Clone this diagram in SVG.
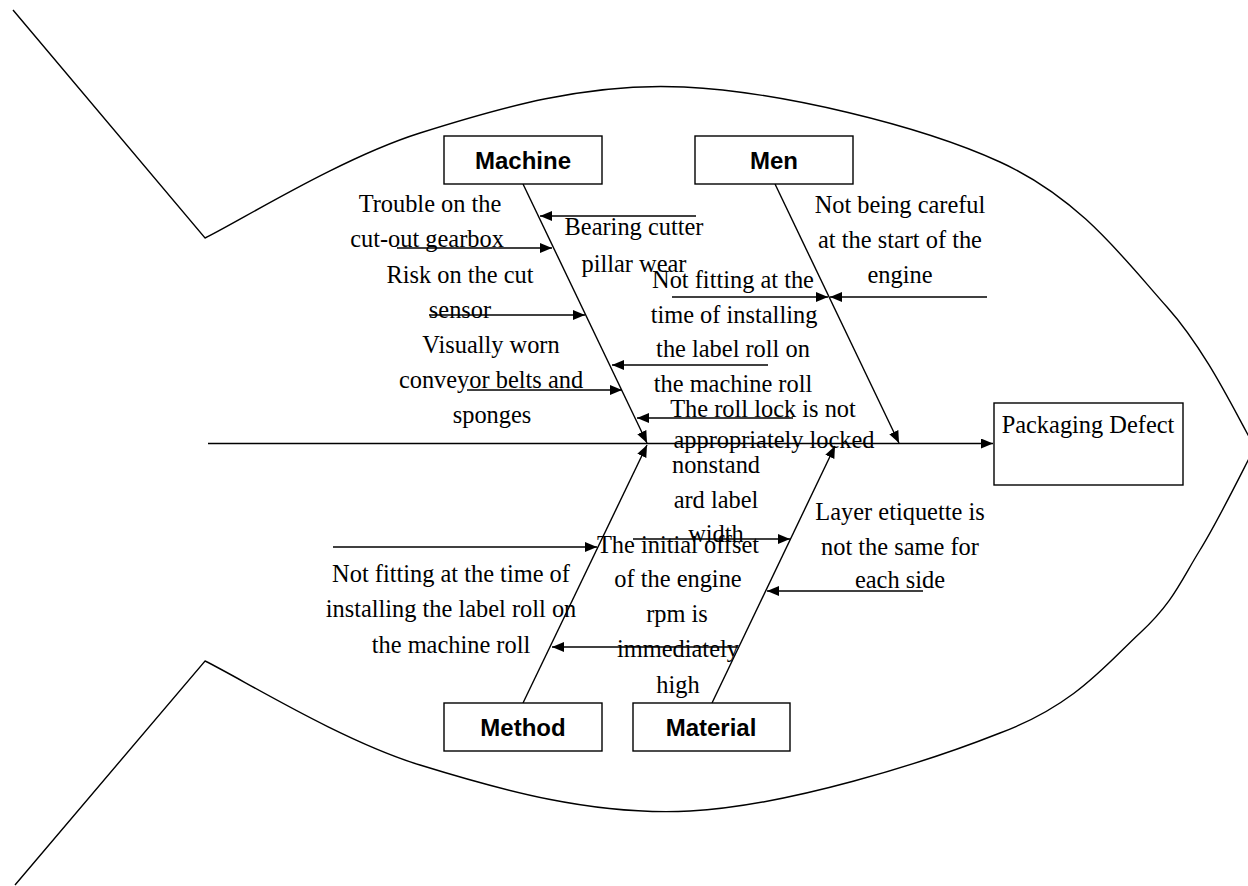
<svg xmlns="http://www.w3.org/2000/svg" width="1248" height="886" viewBox="0 0 1248 886">
  <defs>
    <marker id="arrow" markerUnits="userSpaceOnUse" viewBox="0 0 12 10" refX="12" refY="5" markerWidth="12" markerHeight="10" orient="auto">
      <path d="M0,0 L12,5 L0,10 z" fill="#000"/>
    </marker>
    <style>
      .outline { fill: none; stroke: #000; stroke-width: 1.4; }
      .box { fill: #fff; stroke: #000; stroke-width: 1.4; }
      .cat { font-family: "Liberation Sans", Arial, sans-serif; font-weight: bold; font-size: 24px; text-anchor: middle; fill: #000; }
      .lbl { font-family: "Liberation Serif", "Times New Roman", serif; font-size: 24.4px; text-anchor: middle; fill: #000; }
      .conn line { stroke: #000; stroke-width: 1.4; marker-end: url(#arrow); }
    </style>
  </defs>
  <rect x="0" y="0" width="1248" height="886" fill="#fff"/>

  <!-- fish outline -->
  <g id="fish">
    <path class="outline" d="M13,10 L205,238 C240.8,220.5 340.2,158.2 420,133 C499.8,107.8 587.3,82.2 684,87 C780.7,91.8 919.5,125.3 1000,162 C1080.5,198.7 1124.5,259.5 1167,307 C1209.5,354.5 1240.3,423.7 1255,447 C1245.8,464.2 1219.2,519 1200,550 C1180.8,581 1173.3,602.2 1140,633 C1106.7,663.8 1075,705.3 1000,733 C925,762.7 786.7,806 690,811 C593.3,816 500.8,790 420,765 C339.2,740 240.8,678.3 205,661 L15,885"/>
  </g>

  <!-- cause labels -->
  <g id="labels" class="lbl">
    <text x="430" y="212">Trouble on the</text>
    <text x="427" y="247">cut-out gearbox</text>
    <text x="460" y="283">Risk on the cut</text>
    <text x="460" y="318">sensor</text>
    <text x="491" y="353">Visually worn</text>
    <text x="491" y="388">conveyor belts and</text>
    <text x="492" y="423">sponges</text>
    <text x="634" y="235">Bearing cutter</text>
    <text x="634" y="272">pillar wear</text>
    <text x="900" y="213">Not being careful</text>
    <text x="900" y="248">at the start of the</text>
    <text x="900" y="283">engine</text>
    <text x="733" y="288">Not fitting at the</text>
    <text x="734" y="323">time of installing</text>
    <text x="733" y="357">the label roll on</text>
    <text x="733" y="392">the machine roll</text>
    <text x="763" y="417">The roll lock is not</text>
    <text x="774" y="448">appropriately locked</text>
    <text x="716" y="473">nonstand</text>
    <text x="716" y="508">ard label</text>
    <text x="716" y="542">width</text>
    <text x="678" y="553">The initial offset</text>
    <text x="678" y="587">of the engine</text>
    <text x="677" y="622">rpm is</text>
    <text x="678" y="657">immediately</text>
    <text x="678" y="693">high</text>
    <text x="900" y="520">Layer etiquette is</text>
    <text x="900" y="555">not the same for</text>
    <text x="900" y="588">each side</text>
    <text x="451" y="582">Not fitting at the time of</text>
    <text x="451" y="617">installing the label roll on</text>
    <text x="451" y="653">the machine roll</text>
  </g>

  <!-- connectors -->
  <g id="connectors" class="conn">
    <line x1="208" y1="443.5" x2="993" y2="443.5"/>
    <line x1="523" y1="184" x2="647" y2="443"/>
    <line x1="775" y1="184" x2="899" y2="443"/>
    <line x1="523" y1="703" x2="647" y2="445"/>
    <line x1="712" y1="703" x2="835" y2="446"/>
    <line x1="696" y1="216" x2="540" y2="216"/>
    <line x1="397" y1="248" x2="552" y2="248"/>
    <line x1="429" y1="315" x2="585" y2="315"/>
    <line x1="768" y1="365" x2="612" y2="365"/>
    <line x1="467" y1="390" x2="622" y2="390"/>
    <line x1="793" y1="418" x2="637" y2="418"/>
    <line x1="672" y1="297" x2="828" y2="297"/>
    <line x1="987" y1="297" x2="830" y2="297"/>
    <line x1="333" y1="547" x2="597" y2="547"/>
    <line x1="738" y1="647" x2="552" y2="647"/>
    <line x1="633" y1="539" x2="790" y2="539"/>
    <line x1="923" y1="591" x2="767" y2="591"/>
  </g>

  <!-- nodes -->
  <g id="node-machine">
    <rect class="box" x="444" y="136" width="158" height="48"/>
    <text class="cat" x="523" y="169">Machine</text>
  </g>
  <g id="node-men">
    <rect class="box" x="695" y="136" width="158" height="48"/>
    <text class="cat" x="774" y="169">Men</text>
  </g>
  <g id="node-method">
    <rect class="box" x="444" y="703" width="158" height="48"/>
    <text class="cat" x="523" y="736">Method</text>
  </g>
  <g id="node-material">
    <rect class="box" x="633" y="703" width="157" height="48"/>
    <text class="cat" x="711" y="736">Material</text>
  </g>
  <g id="node-effect">
    <rect class="box" x="994" y="403" width="189" height="82"/>
    <text class="lbl" x="1088" y="433">Packaging Defect</text>
  </g>
</svg>
